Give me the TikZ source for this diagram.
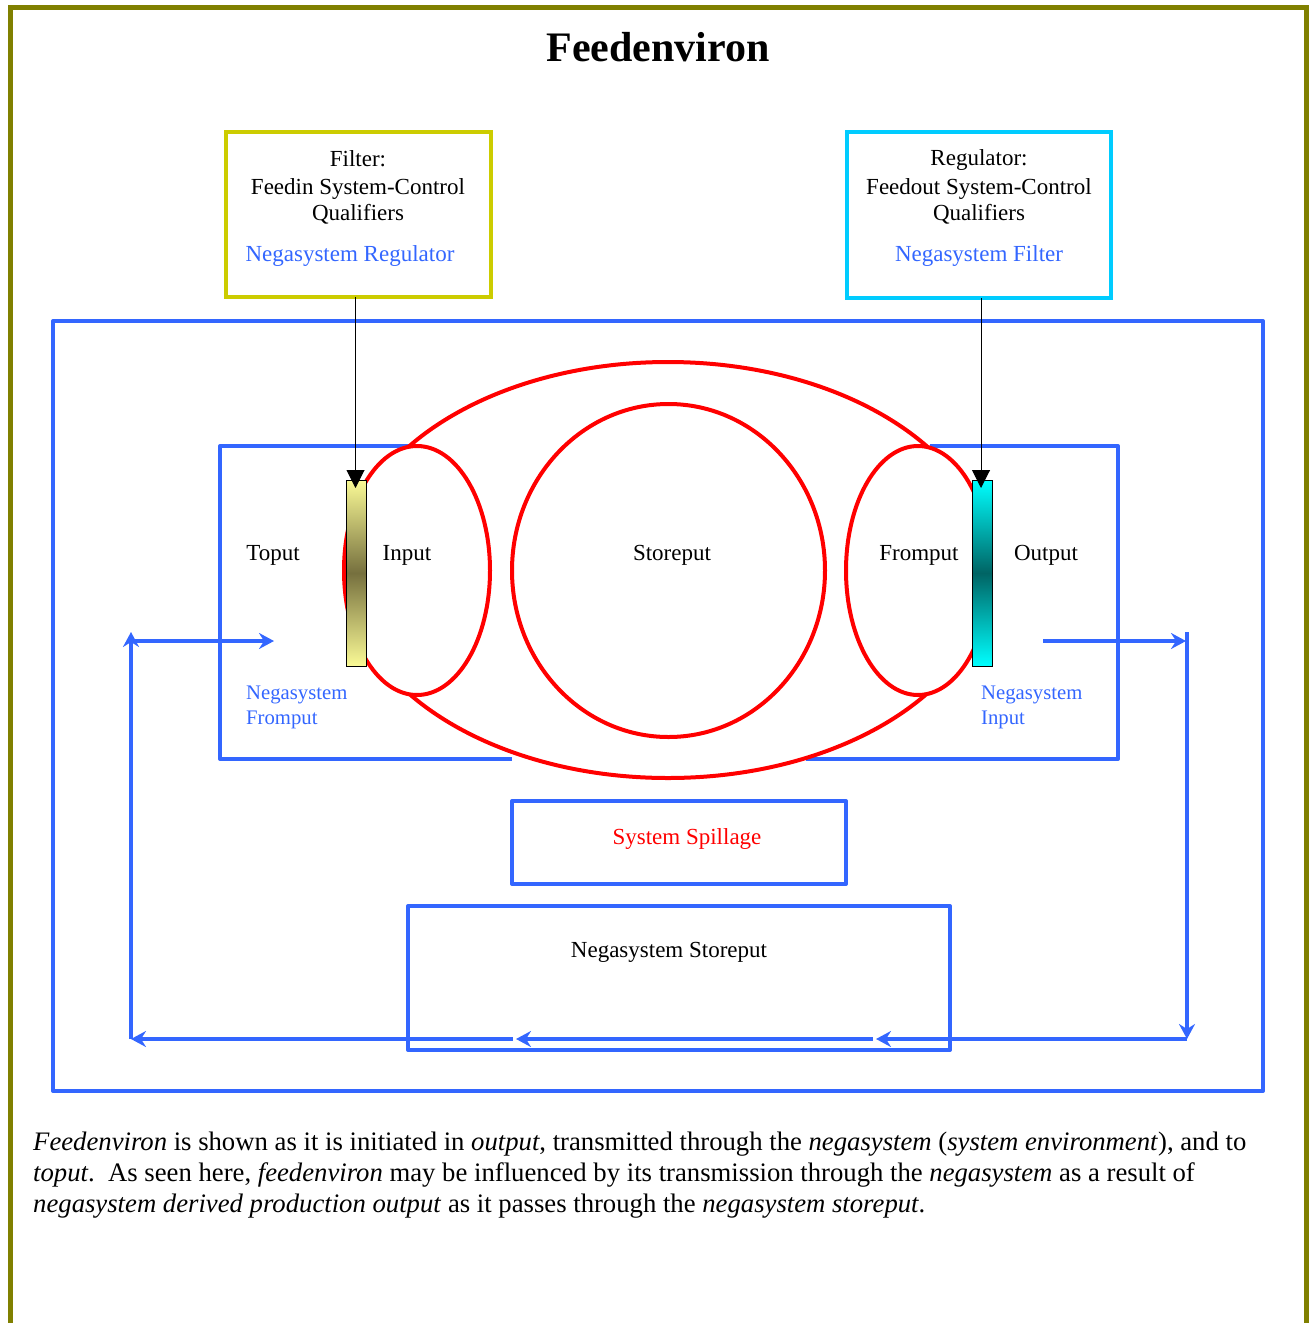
\documentclass[tikz,border=0pt]{standalone}
\usepackage{fontspec}
\setmainfont{Liberation Serif}
\usetikzlibrary{arrows.meta,shapes.geometric}

\definecolor{frameolive}{RGB}{128,128,0}
\definecolor{envblue}{RGB}{51,102,255}
\definecolor{loopred}{RGB}{255,0,0}
\definecolor{filteryellow}{RGB}{204,204,0}
\definecolor{regcyan}{RGB}{0,204,255}
\definecolor{paleyellow}{RGB}{250,250,150}
\definecolor{darkolive}{RGB}{118,112,62}
\definecolor{brightcyan}{RGB}{0,255,255}
\definecolor{darkteal}{RGB}{0,100,100}

\tikzset{
  txt/.style={font=\fontsize{23}{27}\selectfont, anchor=base, inner sep=0pt},
  bluetxt/.style={txt, text=envblue},
  smallblue/.style={font=\fontsize{20.7}{25}\selectfont, anchor=base west, inner sep=0pt, text=envblue},
  captxt/.style={font=\fontsize{26.7}{31}\selectfont, anchor=base west, inner sep=0pt},
  ctrlbox/.style={draw, line width=4pt, inner sep=0pt, outer sep=0pt},
  envbox/.style={draw=envblue, line width=4pt, line join=round, inner sep=0pt, outer sep=0pt},
  envline/.style={draw=envblue, line width=4pt, line join=round},
  envarrow/.style={envline, -{Stealth[length=15pt,width=16pt,inset=5pt]}},
  redloop/.style={ellipse, draw=loopred, line width=4pt, inner sep=0pt, outer sep=0pt},
  gatebar/.style={draw=black, line width=1pt, inner sep=0pt, minimum width=20pt, minimum height=186pt},
  ctrlarrow/.style={draw=black, line width=1pt, -{Triangle[length=18pt,width=18pt]}}
}

\begin{document}
\begin{tikzpicture}[x=1pt,y=-1pt]
\useasboundingbox (0,0) rectangle (1309,1323);
\clip (0,0) rectangle (1309,1323);

% page frame, running past the lower edge
\draw[frameolive, line width=5pt] (10.5,1360) -- (10.5,7.5) -- (1306.5,7.5) -- (1306.5,1360);

% title
\node[font=\bfseries\fontsize{42}{50}\selectfont, anchor=base, inner sep=0pt] (title) at (658,61) {Feedenviron};

% control boxes
\node[ctrlbox, draw=filteryellow, minimum width=265pt, minimum height=165pt] (filter) at (358.5,214.5) {};
\node[txt] (filterhead) at (358,166) {Filter:};
\node[txt] (filterl1) at (358,194) {Feedin System-Control};
\node[txt] (filterl2) at (358,220) {Qualifiers};
\node[bluetxt] (filterneg) at (350,261) {Negasystem Regulator};

\node[ctrlbox, draw=regcyan, minimum width=264pt, minimum height=166pt] (regulator) at (979,215) {};
\node[txt] (reghead) at (979,165) {Regulator:};
\node[txt] (regl1) at (979,194) {Feedout System-Control};
\node[txt] (regl2) at (979,220) {Qualifiers};
\node[bluetxt] (regneg) at (979,261) {Negasystem Filter};

% environment frame
\node[envbox, minimum width=1210pt, minimum height=770pt] (environ) at (658,706) {};

% inner system frame
\draw[envline] (512,759) -- (220,759) -- (220,446) -- (410,446);
\draw[envline] (930,446) -- (1118,446) -- (1118,759) -- (806,759);

% system loops: the input and fromput loops cover the outer loop
\node[redloop, minimum width=644pt, minimum height=416pt] (sysloop) at (668,570) {};
\node[redloop, minimum width=313pt, minimum height=333pt] (storeloop) at (668.5,570.5) {};
\node[redloop, fill=white, minimum width=146pt, minimum height=249pt] (inloop) at (417,570.5) {};
\node[redloop, fill=white, minimum width=144pt, minimum height=249pt] (fromloop) at (918,570.5) {};

% gates
\node[gatebar, top color=paleyellow, bottom color=paleyellow, middle color=darkolive] (lbar) at (356,573) {};
\node[gatebar, top color=brightcyan, bottom color=brightcyan, middle color=darkteal] (rbar) at (982,573) {};

\draw[ctrlarrow] (filter.south -| 355.5,0) -- (355.5,488);
\draw[ctrlarrow] (regulator.south -| 981,0) -- (981,488);

% labels inside the system
\node[txt] (toput) at (273,560) {Toput};
\node[txt] (input) at (407,560) {Input};
\node[txt] (storeput) at (672,560) {Storeput};
\node[txt] (fromput) at (919,560) {Fromput};
\node[txt] (output) at (1046,560) {Output};
\node[smallblue] (negfrom1) at (246,699) {Negasystem};
\node[smallblue] (negfrom2) at (246,724) {Fromput};
\node[smallblue] (negin1) at (981,699) {Negasystem};
\node[smallblue] (negin2) at (981,724) {Input};

% negasystem boxes
\node[envbox, minimum width=334pt, minimum height=83pt] (spill) at (679,842.5) {};
\node[txt, text=loopred] (spilltxt) at (687,844) {System Spillage};
\node[envbox, minimum width=542pt, minimum height=144pt] (negstore) at (679,978) {};
\node[txt] (negstoretxt) at (669,957) {Negasystem Storeput};

% feedback path through the negasystem
\coordinate (outstart) at (1043,641);
\coordinate (rtop) at (1187,632);
\coordinate (rturn) at (1187,1039);
\coordinate (bmid1) at (876,1039);
\coordinate (bmid2) at (516,1039);
\coordinate (lturn) at (131,1039);
\coordinate (ltop) at (131,632);
\coordinate (lrow) at (131,641);
\coordinate (toputin) at (274,641);

\draw[envarrow] (outstart) -- (1186,641);
\draw[envarrow] (rtop) -- (rturn);
\draw[envarrow] (rturn) -- (bmid1);
\draw[envarrow] (873,1039) -- (bmid2);
\draw[envarrow] (513,1039) -- (lturn);
\draw[envarrow] (lturn) -- (ltop);
\draw[envarrow] (lrow) -- (toputin);

% caption
\node[captxt] (cap1) at (33,1150) {\textit{Feedenviron} is shown as it is initiated in \textit{output}, transmitted through the \textit{negasystem} (\textit{system environment}), and to};
\node[captxt] (cap2) at (33,1181) {\textit{toput}.\ \ As seen here, \textit{feedenviron} may be influenced by its transmission through the \textit{negasystem} as a result of};
\node[captxt] (cap3) at (33,1212) {\textit{negasystem derived production output} as it passes through the \textit{negasystem storeput}.};
\end{tikzpicture}
\end{document}
